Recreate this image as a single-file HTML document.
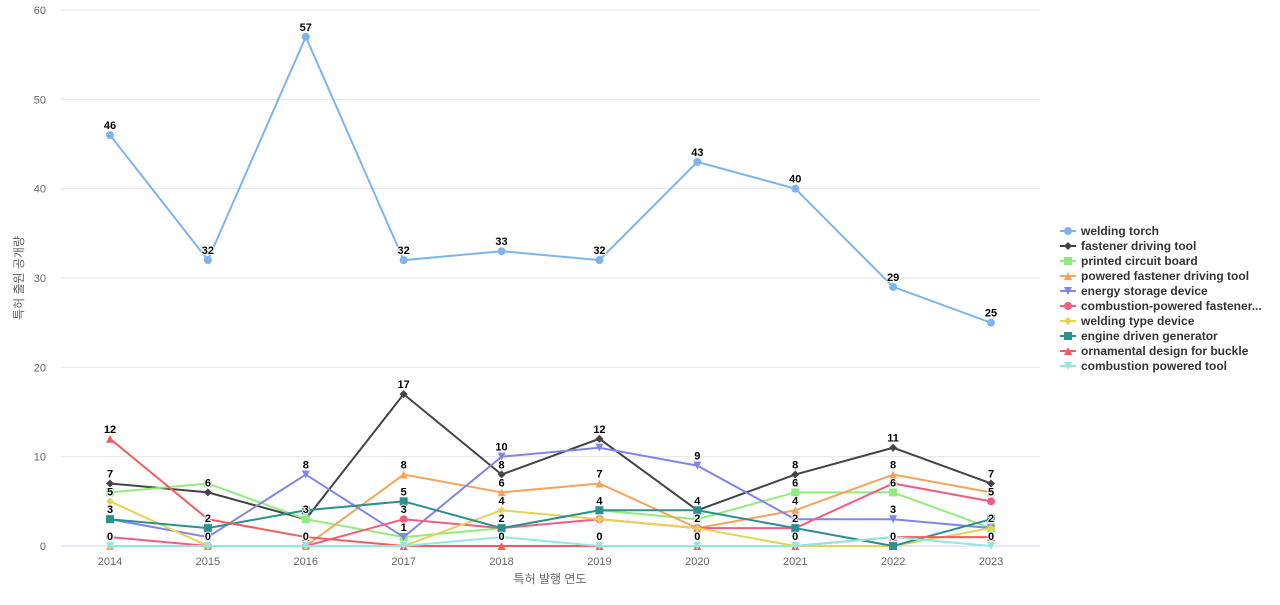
<!DOCTYPE html>
<html><head><meta charset="utf-8"><style>
body{margin:0;background:#fff;font-family:"Liberation Sans","Noto Sans CJK KR",sans-serif;}
svg text{font-family:"Liberation Sans","Noto Sans CJK KR",sans-serif;}
</style></head><body>
<svg id="c" width="1280" height="600"></svg>
<script>
const years=[2014,2015,2016,2017,2018,2019,2020,2021,2022,2023];
const seriesNames=["welding torch","fastener driving tool","printed circuit board","powered fastener driving tool","energy storage device","combustion-powered fastener...","welding type device","engine driven generator","ornamental design for buckle","combustion powered tool"];
const sWeldingTorch=[46,32,57,32,33,32,43,40,29,25];
const sFastenerDriving=[7,6,3,17,8,12,4,8,11,7];
const sPcb=[6,7,3,1,2,4,3,6,6,2];
const sPoweredFastener=[0,0,0,8,6,7,2,4,8,6];
const sEnergyStorage=[3,1,8,1,10,11,9,3,3,2];
const sCombustionFastener=[1,0,0,3,2,3,2,2,7,5];
const sWeldingType=[5,0,0,0,4,3,2,0,0,2];
const sEngineGen=[3,2,4,5,2,4,4,2,0,3];
const sOrnamental=[12,3,1,0,0,0,0,0,1,1];
const sCombustionTool=[0,0,0,0,1,0,0,0,1,0];
const yTicks=[0,10,20,30,40,50,60];
const allSeries=[sWeldingTorch,sFastenerDriving,sPcb,sPoweredFastener,sEnergyStorage,sCombustionFastener,sWeldingType,sEngineGen,sOrnamental,sCombustionTool];
const colors=["#7cb5ec","#434348","#90ed7d","#f7a35c","#8085e9","#f15c80","#e4d354","#2b908f","#f45b5b","#91e8e1"];
const shapes=["circle","diamond","square","up","down","circle","diamond","square","up","down"];
const NS="http://www.w3.org/2000/svg";
const svg=document.getElementById('c');
const X0=110,X1=991,Y0=546,Y60=10;
const xs=i=>X0+(X1-X0)*i/(years.length-1);
const ys=v=>Y0-(Y0-Y60)*v/60;
function mk(t,a,p){const e=document.createElementNS(NS,t);for(const k in a)e.setAttribute(k,a[k]);(p||svg).appendChild(e);return e;}
yTicks.forEach(t=>{
 const l=mk('line',{x1:61,x2:1040,y1:ys(t),y2:ys(t),stroke:t===0?'#ccd6eb':'#e6e6e6','stroke-width':1});
 
 
 const tx=mk('text',{x:46,y:ys(t)+4,'text-anchor':'end','font-size':11,fill:'#666'});tx.textContent=t;
 
 
});
years.forEach((y,i)=>{
 const tx=mk('text',{x:xs(i),y:565,'text-anchor':'middle','font-size':11,fill:'#666'});tx.textContent=y;
 
 
});
const xt=mk('text',{x:550,y:583,'text-anchor':'middle','font-size':12,fill:'#666'});xt.textContent='특허 발행 연도';


const yt=mk('text',{x:0,y:0,'text-anchor':'middle','font-size':12,fill:'#666',transform:'translate(23,278) rotate(-90)'});yt.textContent='특허 출원 공개량';


function marker(g,shape,x,y,c,r){
 if(shape==='circle')return mk('circle',{cx:x,cy:y,r:r,fill:c},g);
 if(shape==='square')return mk('rect',{x:x-r,y:y-r,width:2*r,height:2*r,fill:c},g);
 if(shape==='diamond')return mk('path',{d:`M${x} ${y-r}L${x+r} ${y}L${x} ${y+r}L${x-r} ${y}Z`,fill:c},g);
 if(shape==='up')return mk('path',{d:`M${x} ${y-r}L${x+r} ${y+r}L${x-r} ${y+r}Z`,fill:c},g);
 return mk('path',{d:`M${x-r} ${y-r}L${x+r} ${y-r}L${x} ${y+r}Z`,fill:c},g);
}
allSeries.forEach((s,k)=>{
 const g=mk('g',{});
 
 
 mk('polyline',{points:s.map((v,i)=>xs(i)+','+ys(v)).join(' '),fill:'none',stroke:colors[k],'stroke-width':2},g);
 s.forEach((v,i)=>{
  const m=marker(g,shapes[k],xs(i),ys(v),colors[k],4);
  
  
 });
});
const placed=[];
allSeries.forEach((s,k)=>{
 s.forEach((v,i)=>{
  const x=xs(i),y=ys(v)-6,w=String(v).length*7+2,h=11;
  const box={x0:x-w/2,x1:x+w/2,y0:y-h,y1:y};
  if(placed.some(b=>b.x0<box.x1&&box.x0<b.x1&&b.y0<box.y1&&box.y0<b.y1))return;
  placed.push(box);
  const t=mk('text',{x:x,y:y,'text-anchor':'middle','font-size':11,'font-weight':'bold',fill:'#000',stroke:'#fff','stroke-width':2,'paint-order':'stroke'});
  t.textContent=v;
  
  
 });
});
seriesNames.forEach((n,k)=>{
 const y=231+k*15;
 const g=mk('g',{});
 
 
 mk('line',{x1:1060,x2:1076,y1:y,y2:y,stroke:colors[k],'stroke-width':2},g);
 marker(g,shapes[k],1068,y,colors[k],4);
 const t=mk('text',{x:1081,y:y+4,'font-size':12,'font-weight':'bold',fill:'#333'},g);t.textContent=n;
});
</script>
</body></html>
